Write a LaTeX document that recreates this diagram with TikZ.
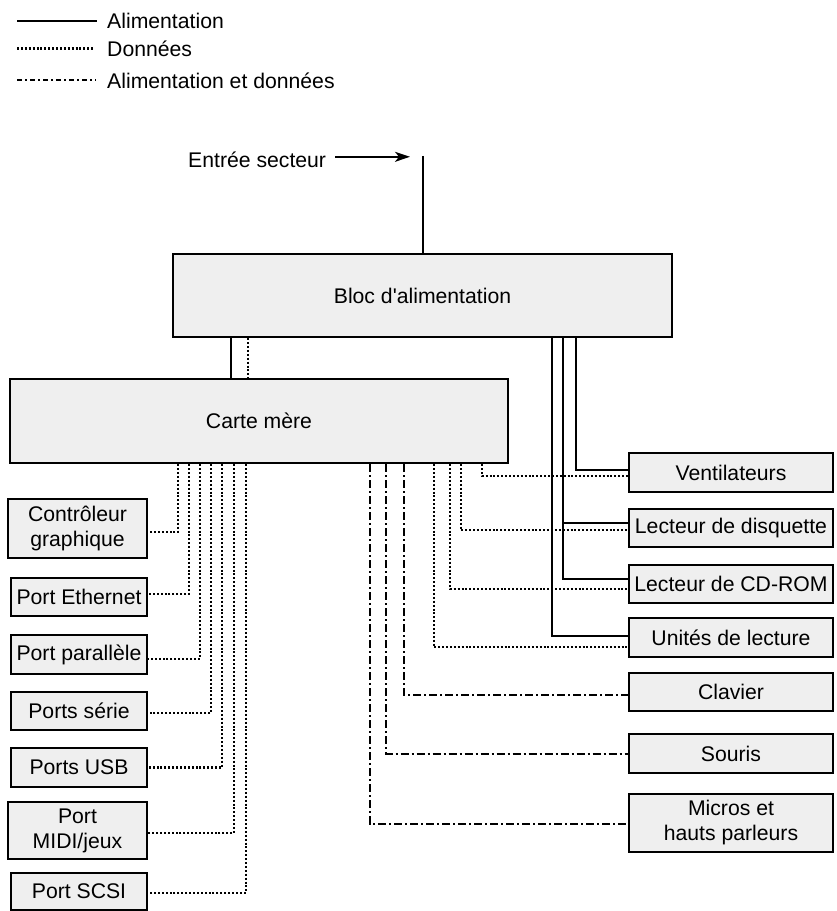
\documentclass[tikz,border=0pt]{standalone}
\usepackage{fontspec}
\setmainfont{Liberation Sans}[Ligatures=TeXOff]
\usetikzlibrary{arrows.meta}
\definecolor{boxfill}{HTML}{EFEFEF}
\newcommand{\lbl}{\fontsize{21.2}{25}\selectfont}
\tikzset{
  box/.style={draw=black, fill=boxfill, line width=2.4pt, inner sep=0pt, align=center, font=\lbl},
  power/.style={line width=2pt},
  data/.style={line width=2.1pt, dash pattern=on 2pt off 1.9pt},
  both/.style={line width=2pt, dash pattern=on 8pt off 3pt on 2pt off 3pt},
  lgtext/.style={anchor=base west, inner sep=0pt, font=\lbl},
}
\begin{document}
\begin{tikzpicture}[x=1pt,y=-1pt]
\useasboundingbox (0,0) rectangle (836,911);

% legend
\node[lgtext] (lg1) at (107,28) {Alimentation};
\node[lgtext] (lg2) at (107,56) {Données};
\node[lgtext] (lg3) at (107,88) {Alimentation et données};
\coordinate (l1a) at (17,20.7); \coordinate (l1b) at (97,20.7);
\coordinate (l2a) at (17,48.5); \coordinate (l2b) at (94,48.5);
\coordinate (l3a) at (17,80); \coordinate (l3b) at (96,80);
\draw[power] (l1a) -- (l1b);
\draw[data] (l2a) -- (l2b);
\draw[both, dash pattern=on 5pt off 3pt on 2pt off 3pt] (l3a) -- (l3b);

% boxes
\node[box, minimum width=499pt, minimum height=83pt] (bloc) at (422.5,295.5) {Bloc d'alimentation};
\node[box, minimum width=498pt, minimum height=84pt] (carte) at (259,421) {Carte mère};

\node[box, minimum width=139pt, minimum height=59pt] (ctrl) at (77.5,528.5) {Contrôleur\\graphique};
\node[box, minimum width=136pt, minimum height=38pt] (eth) at (79,597) {Port Ethernet};
\node[box, minimum width=136pt, minimum height=39pt] (par) at (79,654.5) {Port parallèle};
\node[box, minimum width=136pt, minimum height=38pt] (serie) at (79,711) {Ports série};
\node[box, minimum width=136pt, minimum height=39pt] (usb) at (79,767.5) {Ports USB};
\node[box, minimum width=139pt, minimum height=57pt] (midi) at (77.5,830.5) {Port\\MIDI/jeux};
\node[box, minimum width=136pt, minimum height=37pt] (scsi) at (79,891.5) {Port SCSI};

\node[box, minimum width=204pt, minimum height=39pt] (vent) at (731,472.5) {Ventilateurs};
\node[box, minimum width=204pt, minimum height=38pt] (disq) at (731,528) {Lecteur de disquette};
\node[box, minimum width=204pt, minimum height=38pt] (cd) at (731,584) {Lecteur de CD-ROM};
\node[box, minimum width=204pt, minimum height=39pt] (unit) at (731,637.5) {Unités de lecture};
\node[box, minimum width=204pt, minimum height=38pt] (clav) at (731,692) {Clavier};
\node[box, minimum width=204pt, minimum height=39pt] (souris) at (731,753.5) {Souris};
\node[box, minimum width=204pt, minimum height=58pt] (micros) at (731,823) {Micros et\\hauts parleurs};

% mains input
\coordinate (mains) at ([yshift=97pt]bloc.north);
\coordinate (arrtip) at ([xshift=-12.5pt,yshift=-1pt]mains);
\node[lgtext] (entree) at (188,167) {Entrée secteur};
\draw[power] (mains) -- (bloc.north);
\draw[line width=1.7pt, -{Stealth[length=15pt,width=10pt,inset=4pt]}] ([xshift=-75pt]arrtip) -- (arrtip);

% bloc -> carte
\coordinate (bc1) at ([xshift=59pt]bloc.south west);
\coordinate (bc2) at ([xshift=76pt]bloc.south west);
\draw[power] (bc1) -- (bc1 |- carte.north);
\draw[data] (bc2) -- (bc2 |- carte.north);

% carte -> left boxes
\coordinate (t1) at ([xshift=169pt]carte.south west);
\coordinate (t2) at ([xshift=180pt]carte.south west);
\coordinate (t3) at ([xshift=191pt]carte.south west);
\coordinate (t4) at ([xshift=202pt]carte.south west);
\coordinate (t5) at ([xshift=213pt]carte.south west);
\coordinate (t6) at ([xshift=225pt]carte.south west);
\coordinate (t7) at ([xshift=237pt]carte.south west);
\draw[data] (t1) |- ([yshift=-3.5pt]ctrl.east);
\draw[data] (t2) |- ([yshift=3pt]eth.east);
\draw[data] (t3) |- ([yshift=-4.5pt]par.east);
\draw[data] (t4) |- ([yshift=-2pt]serie.east);
\draw[data] (t5) |- (usb.east);
\draw[data] (t6) |- ([yshift=-2.5pt]midi.east);
\draw[data] (t7) |- ([yshift=-1.5pt]scsi.east);

% power to right boxes
\coordinate (p1) at ([xshift=380pt]bloc.south west);
\coordinate (p2) at ([xshift=391pt]bloc.south west);
\coordinate (p3) at ([xshift=404pt]bloc.south west);
\draw[power] (p3) |- ([yshift=2.5pt]vent.west);
\draw[power] (p2) |- ([yshift=5pt]disq.west);
\draw[power] (p2) |- ([yshift=5pt]cd.west);
\draw[power] (p1) |- ([yshift=1.5pt]unit.west);

% carte -> right boxes
\coordinate (r1) at ([xshift=361pt]carte.south west);
\coordinate (r2) at ([xshift=377pt]carte.south west);
\coordinate (r3) at ([xshift=395pt]carte.south west);
\coordinate (r4) at ([xshift=425pt]carte.south west);
\coordinate (r5) at ([xshift=441pt]carte.south west);
\coordinate (r6) at ([xshift=452pt]carte.south west);
\coordinate (r7) at ([xshift=473pt]carte.south west);
\draw[data] (r7) |- ([yshift=-3.5pt]vent.west);
\draw[data] (r6) |- ([yshift=-2pt]disq.west);
\draw[data] (r5) |- ([yshift=-5pt]cd.west);
\draw[data] (r4) |- ([yshift=-9.5pt]unit.west);
\draw[both] (r3) |- ([yshift=-3pt]clav.west);
\draw[both] (r2) |- (souris.west);
\draw[both] (r1) |- ([yshift=-1pt]micros.west);
\end{tikzpicture}
\end{document}
